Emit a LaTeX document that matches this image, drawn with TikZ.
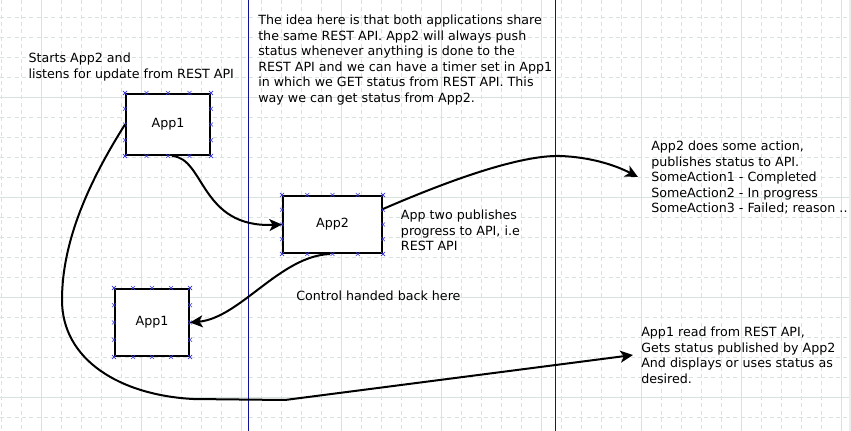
\documentclass[tikz,border=0pt]{standalone}
\usepackage{fontspec}
\setmainfont{DejaVu Sans}
\usetikzlibrary{arrows.meta,calc}
\definecolor{gridc}{HTML}{D8E2DF}
\definecolor{navy}{HTML}{10109A}
\definecolor{markc}{HTML}{3A3AE0}
\tikzset{
  appbox/.style={draw=black,line width=1.5pt,fill=white,inner sep=0pt,font=\fontsize{9.5}{11.6}\selectfont},
  note/.style={inner sep=0pt,align=left,anchor=north west,font=\fontsize{9.5}{11.6}\selectfont},
  conn/.style={line width=1.5pt,-{Stealth[length=9.5pt,width=9pt,inset=2.5pt]}},
  minorgrid/.style={gridc,line width=0.75pt,dash pattern=on 3pt off 2.5pt},
  majorgrid/.style={gridc,line width=0.75pt},
  sep/.style={navy,line width=0.7pt},
}
\newcommand{\xmarks}[1]{%
  \foreach \f in {0,0.25,0.5,0.75,1}{%
    \foreach \A/\B in {north west/north east,south west/south east,north west/south west,north east/south east}{%
      \coordinate (mk) at ($(#1.\A)!\f!(#1.\B)$);
      \draw[markc,line width=0.5pt] (mk)+(-2,-2)--+(2,2) (mk)+(-2,2)--+(2,-2);
    }}}
\begin{document}
\begin{tikzpicture}[x=0.75pt,y=-0.75pt]
\useasboundingbox (0,0) rectangle (851,431);
\fill[white] (0,0) rectangle (851,431);
% grid
\foreach \gx in {1.7,21.7,...,841.7} \draw[minorgrid] (\gx,0) -- (\gx,431);
\foreach \gy in {17.7,37.7,...,431} \draw[minorgrid] (0,\gy) -- (849,\gy);
\foreach \gx in {41.7,141.7,...,841.7} \draw[majorgrid] (\gx,0) -- (\gx,431);
\foreach \gy in {97.7,197.7,...,431} \draw[majorgrid] (0,\gy) -- (849,\gy);
\fill[black!7] (849,0) rectangle (851,431);
% separators
\draw[sep] (248,0) -- (248,431);
\draw[sep] (555,0) -- (555,431);
% boxes
\node[appbox,minimum width=63pt,minimum height=45.75pt] (a1) at (168,124.5) {App1};
\node[appbox,minimum width=74.25pt,minimum height=42.75pt] (a2) at (332.5,224.5) {App2};
\node[appbox,minimum width=55.5pt,minimum height=50.25pt] (a1b) at (152,322.5) {App1};
\xmarks{a1}
\xmarks{a2}
\xmarks{a1b}
% texts
\node[note] (t1) at (28.3,53) {Starts App2 and\\listens for update from REST API};
\node[note] (t2) at (258,15) {The idea here is that both applications share\\the same REST API. App2 will always push\\status whenever anything is done to the\\REST API and we can have a timer set in App1\\in which we GET status from REST API. This\\way we can get status from App2.};
\node[note] (t3) at (400.7,210) {App two publishes\\progress to API, i.e\\REST API};
\node[note] (t4) at (296,291) {Control handed back here};
\node[note] (t5) at (651,141) {App2 does some action,\\publishes status to API.\\SomeAction1 - Completed\\SomeAction2 - In progress\\SomeAction3 - Failed; reason ..};
\node[note] (t6) at (641,327) {App1 read from REST API,\\Gets status published by App2\\And displays or uses status as\\desired.};
% connector endpoints
\coordinate (s1) at ($(a1.south)+(4,0)$);
\coordinate (e3) at (638,177);
\coordinate (e2) at (633,355);
\coordinate (s3) at ($(a2.north east)+(0,14)$);
\coordinate (s4) at ($(a2.south)+(-2.5,0)$);
% connectors
\draw[conn] (s1) .. controls (205,158) and (200,228) .. (a2.west);
\draw[conn] (a1.west) .. controls (90,180) and (62,240) .. (62,300)
   .. controls (62,360) and (120,395) .. (193,399) -- (285,400) -- (e2);
\draw[conn] (s3) .. controls (450,180) and (520,155) .. (560,156)
   .. controls (590,157) and (615,165) .. (e3);
\draw[conn] (s4) .. controls (280,256) and (240,318) .. (a1b.east);
\end{tikzpicture}
\end{document}
